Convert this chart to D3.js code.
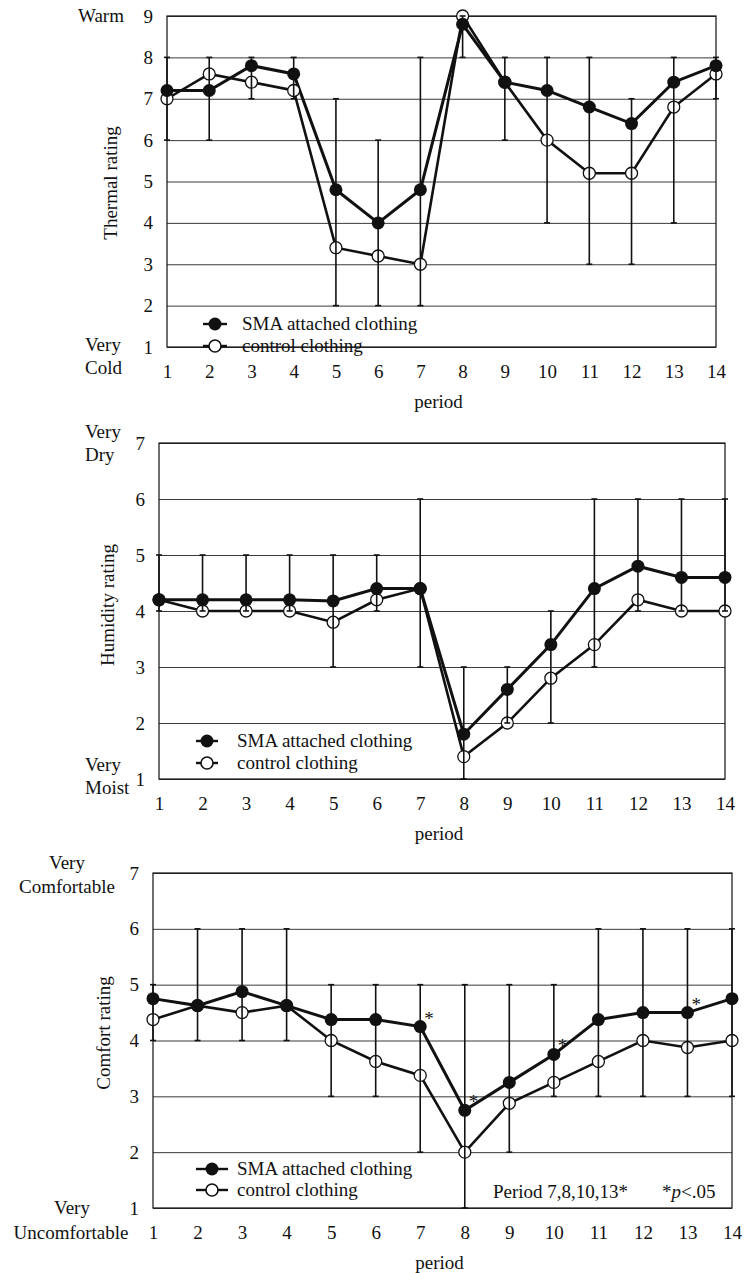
<!DOCTYPE html>
<html>
<head>
<meta charset="utf-8">
<script src="https://cdn.jsdelivr.net/npm/d3@7"></script>
<style>
  body { margin: 0; background: #fff; }
  svg { display: block; }
  text { font-family: "Liberation Serif", "Times New Roman", serif; fill: #111; }
</style>
</head>
<body>
<div id="chart-mount"></div>
<script>
var WIDTH = 745;
var HEIGHT = 1273;
var FONT = 19;

var periods = [1, 2, 3, 4, 5, 6, 7, 8, 9, 10, 11, 12, 13, 14];

// thermal rating (1 very cold .. 9 warm)
var thermalSMA     = [7.2, 7.2, 7.8, 7.6, 4.8, 4.0, 4.8, 8.8, 7.4, 7.2, 6.8, 6.4, 7.4, 7.8];
var thermalControl = [7.0, 7.6, 7.4, 7.2, 3.4, 3.2, 3.0, 9.0, 7.4, 6.0, 5.2, 5.2, 6.8, 7.6];
var thermalErrLow  = [6, 6, 7, 7, 2, 2, 2, 8, 6, 4, 3, 3, 4, 7];
var thermalErrHigh = [8, 8, 8, 8, 7, 6, 8, 9, 8, 8, 8, 7, 8, 8];
var thermalTicks   = [1, 2, 3, 4, 5, 6, 7, 8, 9];

// humidity rating (1 very moist .. 7 very dry)
var humiditySMA     = [4.2, 4.2, 4.2, 4.2, 4.18, 4.4, 4.4, 1.8, 2.6, 3.4, 4.4, 4.8, 4.6, 4.6];
var humidityControl = [4.2, 4.0, 4.0, 4.0, 3.8, 4.2, 4.4, 1.4, 2.0, 2.8, 3.4, 4.2, 4.0, 4.0];
var humidityErrLow  = [4, 4, 4, 4, 3, 4, 3, 1, 2, 2, 3, 4, 4, 4];
var humidityErrHigh = [5, 5, 5, 5, 5, 5, 6, 3, 3, 4, 6, 6, 6, 6];

// comfort rating (1 very uncomfortable .. 7 very comfortable)
var comfortSMA     = [4.75, 4.625, 4.875, 4.625, 4.375, 4.375, 4.25, 2.75, 3.25, 3.75, 4.375, 4.5, 4.5, 4.75];
var comfortControl = [4.375, 4.625, 4.5, 4.625, 4.0, 3.625, 3.375, 2.0, 2.875, 3.25, 3.625, 4.0, 3.875, 4.0];
var comfortErrLow  = [4, 4, 4, 4, 3, 3, 2, 1, 2, 3, 3, 3, 3, 3];
var comfortErrHigh = [5, 6, 6, 6, 5, 5, 5, 5, 5, 5, 6, 6, 6, 6];
var comfortSig     = [7, 8, 10, 13];

var sevenTicks = [1, 2, 3, 4, 5, 6, 7];
var seriesNames = ['SMA attached clothing', 'control clothing'];

var $svg = d3.select('#chart-mount').append('svg')
  .attr('width', WIDTH)
  .attr('height', HEIGHT);

$svg.append('rect').attr('width', WIDTH).attr('height', HEIGHT).attr('fill', '#fff');

function toPoints (values) {
  return values.map(function (v, i) { return { p: periods[i], v: v }; });
}

function drawPanel (cfg) {
  var g = $svg.append('g');
  var x = d3.scaleLinear().domain([1, 14]).range([cfg.left, cfg.right]);
  var y = d3.scaleLinear().domain([cfg.ticks[0], cfg.ticks[cfg.ticks.length - 1]]).range([cfg.bottom, cfg.top]);

  // y axis with gridlines
  var yAxis = g.append('g')
    .attr('transform', 'translate(' + cfg.left + ',0)')
    .call(d3.axisLeft(y).tickValues(cfg.ticks).tickFormat(d3.format('d'))
      .tickSize(-(cfg.right - cfg.left)).tickPadding(14));
  yAxis.attr('font-family', null).attr('font-size', null);
  yAxis.select('.domain').remove();
  yAxis.selectAll('line').attr('stroke', '#3a3a3a').attr('stroke-width', 1);
  yAxis.selectAll('text').attr('font-size', FONT).attr('fill', '#111');

  // x axis labels
  var xAxis = g.append('g')
    .attr('transform', 'translate(0,' + cfg.bottom + ')')
    .call(d3.axisBottom(x).tickValues(periods).tickFormat(d3.format('d')).tickSize(0).tickPadding(18));
  xAxis.attr('font-family', null).attr('font-size', null);
  xAxis.select('.domain').remove();
  xAxis.selectAll('text').attr('font-size', FONT).attr('fill', '#111');

  // plot border
  g.append('rect')
    .attr('x', cfg.left).attr('y', cfg.top)
    .attr('width', cfg.right - cfg.left).attr('height', cfg.bottom - cfg.top)
    .attr('fill', 'none').attr('stroke', '#111').attr('stroke-width', 1.2);

  // series lines
  var line = d3.line().x(function (d) { return x(d.p); }).y(function (d) { return y(d.v); });
  g.append('path').datum(toPoints(cfg.control)).attr('d', line)
    .attr('fill', 'none').attr('stroke', '#111').attr('stroke-width', 2.6);
  g.append('path').datum(toPoints(cfg.sma)).attr('d', line)
    .attr('fill', 'none').attr('stroke', '#111').attr('stroke-width', 3);

  // markers
  g.selectAll('circle.ctl').data(toPoints(cfg.control)).join('circle')
    .attr('class', 'ctl')
    .attr('cx', function (d) { return x(d.p); })
    .attr('cy', function (d) { return y(d.v); })
    .attr('r', 6).attr('fill', '#fff').attr('stroke', '#111').attr('stroke-width', 1.3);
  g.selectAll('circle.sma').data(toPoints(cfg.sma)).join('circle')
    .attr('class', 'sma')
    .attr('cx', function (d) { return x(d.p); })
    .attr('cy', function (d) { return y(d.v); })
    .attr('r', 6.5).attr('fill', '#111');

  // error bars on top
  var bars = periods.map(function (p, i) { return { p: p, lo: cfg.errLow[i], hi: cfg.errHigh[i] }; });
  var eb = g.selectAll('g.eb').data(bars).join('g').attr('class', 'eb');
  eb.append('line')
    .attr('x1', function (d) { return x(d.p); }).attr('x2', function (d) { return x(d.p); })
    .attr('y1', function (d) { return y(d.lo); }).attr('y2', function (d) { return y(d.hi); })
    .attr('stroke', '#111').attr('stroke-width', 1.6);
  ['lo', 'hi'].forEach(function (k) {
    eb.append('line')
      .attr('x1', function (d) { return x(d.p) - 3; }).attr('x2', function (d) { return x(d.p) + 3; })
      .attr('y1', function (d) { return y(d[k]); }).attr('y2', function (d) { return y(d[k]); })
      .attr('stroke', '#111').attr('stroke-width', 1.6);
  });

  // legend
  cfg.legend.rows.forEach(function (ry, i) {
    g.append('line')
      .attr('x1', cfg.legend.x1).attr('x2', cfg.legend.x2)
      .attr('y1', ry).attr('y2', ry)
      .attr('stroke', '#111').attr('stroke-width', 2.4);
    g.append('circle')
      .attr('cx', (cfg.legend.x1 + cfg.legend.x2) / 2).attr('cy', ry)
      .attr('r', i === 0 ? 6.5 : 6)
      .attr('fill', i === 0 ? '#111' : '#fff')
      .attr('stroke', '#111').attr('stroke-width', i === 0 ? 0 : 1.6);
    g.append('text')
      .attr('x', cfg.legend.tx).attr('y', ry + 6)
      .attr('font-size', FONT)
      .text(seriesNames[i]);
  });

  // axis titles
  g.append('text')
    .attr('transform', 'translate(' + cfg.titleX + ',' + cfg.titleY + ') rotate(-90)')
    .attr('text-anchor', 'middle').attr('dy', '0.35em')
    .attr('font-size', FONT)
    .text(cfg.title);
  g.append('text')
    .attr('x', (cfg.left + cfg.right) / 2 - 3).attr('y', cfg.bottom + 61)
    .attr('text-anchor', 'middle')
    .attr('font-size', FONT)
    .text('period');

  // scale end labels
  cfg.ends.forEach(function (e) {
    g.append('text')
      .attr('x', e.x).attr('y', e.y)
      .attr('text-anchor', e.anchor || 'start')
      .attr('font-size', FONT)
      .text(e.text);
  });

  return { g: g, x: x, y: y };
}

drawPanel({
  left: 167, right: 716, top: 16, bottom: 347,
  ticks: thermalTicks,
  sma: thermalSMA, control: thermalControl,
  errLow: thermalErrLow, errHigh: thermalErrHigh,
  title: 'Thermal rating', titleX: 110, titleY: 183,
  legend: { x1: 203, x2: 227, tx: 242, rows: [324, 346] },
  ends: [
    { text: 'Warm', x: 78, y: 22 },
    { text: 'Very', x: 85, y: 351 },
    { text: 'Cold', x: 85, y: 374 }
  ]
});

drawPanel({
  left: 159, right: 725, top: 443, bottom: 779,
  ticks: sevenTicks,
  sma: humiditySMA, control: humidityControl,
  errLow: humidityErrLow, errHigh: humidityErrHigh,
  title: 'Humidity rating', titleX: 107, titleY: 605,
  legend: { x1: 196, x2: 218, tx: 237, rows: [741, 763] },
  ends: [
    { text: 'Very', x: 85, y: 438 },
    { text: 'Dry', x: 85, y: 461 },
    { text: 'Very', x: 85, y: 771 },
    { text: 'Moist', x: 85, y: 794 }
  ]
});

var p3 = drawPanel({
  left: 153, right: 732, top: 873, bottom: 1208,
  ticks: sevenTicks,
  sma: comfortSMA, control: comfortControl,
  errLow: comfortErrLow, errHigh: comfortErrHigh,
  title: 'Comfort rating', titleX: 103, titleY: 1033,
  legend: { x1: 196, x2: 228, tx: 237, rows: [1169, 1190] },
  ends: [
    { text: 'Very', x: 67, y: 869, anchor: 'middle' },
    { text: 'Comfortable', x: 67, y: 893, anchor: 'middle' },
    { text: 'Very', x: 72, y: 1214, anchor: 'middle' },
    { text: 'Uncomfortable', x: 71, y: 1239, anchor: 'middle' }
  ]
});

// significance marks
p3.g.selectAll('text.sig')
  .data(comfortSig)
  .join('text')
  .attr('class', 'sig')
  .attr('x', function (p) { return p3.x(p) + 4; })
  .attr('y', function (p) { return p3.y(comfortSMA[p - 1]) - 2; })
  .attr('font-size', FONT)
  .text('*');

var note = p3.g.append('text').attr('x', 493).attr('y', 1198).attr('font-size', FONT);
note.append('tspan').text('Period ' + comfortSig.join(',') + '*');
var pnote = p3.g.append('text').attr('x', 662).attr('y', 1198).attr('font-size', FONT);
pnote.append('tspan').text('*');
pnote.append('tspan').attr('font-style', 'italic').text('p');
pnote.append('tspan').text('<.05');
</script>
</body>
</html>
